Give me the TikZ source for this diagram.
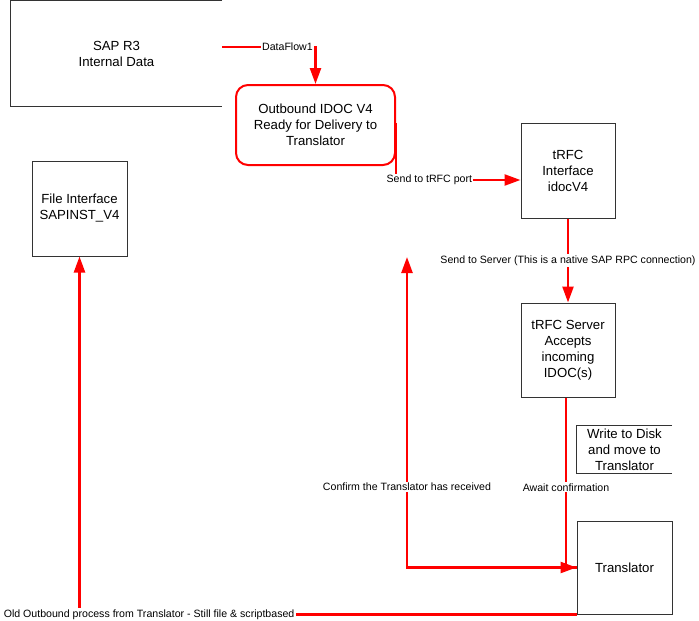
\documentclass[tikz,border=0pt]{standalone}
\usepackage{fontspec}
\setmainfont{Liberation Sans}
\usepackage{tikz}
\usetikzlibrary{arrows.meta,calc,positioning}
\usepackage{xcolor}
\definecolor{flowred}{HTML}{FF0000}
\definecolor{boxline}{HTML}{333333}

\begin{document}
\begin{tikzpicture}[x=1pt,y=-1pt,
  boxtext/.style={align=center,font=\fontsize{13.2}{16}\selectfont,inner sep=0pt},
  stepbox/.style={boxtext,draw=boxline,line width=1pt},
  flow/.style={draw=flowred,line width=2.4pt},
  flowarrow/.style={flow,-{Triangle[length=16pt,width=11pt]}},
  lbl/.style={fill=white,inner sep=1.2pt,font=\fontsize{10.6}{12}\selectfont}]
\useasboundingbox (0,0) rectangle (699,621);
\node[boxtext,minimum width=211pt,minimum height=105pt] (sap) at (116.5,53.5) {SAP R3\\Internal Data};
\draw[boxline,line width=1pt] (sap.north east)--(sap.north west)--(sap.south west)--(sap.south east);
\node[boxtext,draw=flowred,line width=2pt,rounded corners=12pt,minimum width=159pt,minimum height=80pt] (outb) at (315.5,125) {Outbound IDOC V4\\Ready for Delivery to\\Translator};
\node[stepbox,minimum width=94pt,minimum height=95pt] (trfc) at (568,170.5) {tRFC\\Interface\\idocV4};
\node[stepbox,minimum width=94pt,minimum height=94pt] (srv) at (568,350) {tRFC Server\\Accepts\\incoming\\IDOC(s)};
\node[boxtext,minimum width=95pt,minimum height=47pt] (disk) at (624.5,449.5) {Write to Disk\\and move to\\Translator};
\draw[boxline,line width=1pt] (disk.north east)--(disk.north west)--(disk.south west)--(disk.south east);
\node[stepbox,minimum width=95pt,minimum height=93pt] (trans) at (624.5,567.5) {Translator};
\node[stepbox,minimum width=95pt,minimum height=95pt] (file) at (79.5,208.5) {File Interface\\SAPINST\_V4};
\coordinate (dfstart) at (222,47);
\coordinate (tportstart) at (396,123);
\coordinate (confend) at (407,257);
\draw[flowarrow] (dfstart) -| node[lbl,pos=0.35]{DataFlow1} (outb.north);
\draw[flowarrow] (tportstart) |- node[lbl,pos=0.634]{Send to tRFC port} ([yshift=-9.5pt]trfc.west);
\draw[flowarrow] (trfc.south) -- node[lbl]{Send to Server (This is a native SAP RPC connection)} (srv.north);
\draw[flowarrow] ([xshift=-2pt]srv.south) |- node[lbl,pos=0.264]{Await confirmation} (trans.west);
\draw[flowarrow] (trans.west) -| node[lbl,pos=0.63]{Confirm the Translator has received} (confend);
\draw[flowarrow] (trans.south west) -| node[lbl,pos=0.43]{Old Outbound process from Translator - Still file \& scriptbased} (file.south);
\end{tikzpicture}
\end{document}
